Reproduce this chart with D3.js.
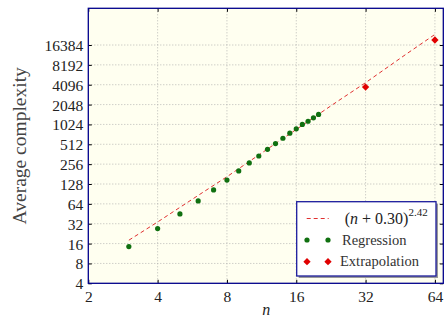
<!DOCTYPE html>
<html>
<head>
<meta charset="utf-8">
<script src="https://cdn.jsdelivr.net/npm/d3@7"></script>
<style>
  body { margin: 0; background: #fff; }
</style>
</head>
<body>
<div class="chart-box"></div>
<script>
let width = 447, height = 321;
let margin = {top: 8.3, right: 3.7, bottom: 37.7, left: 88.3};
let serif = "'Liberation Serif', 'DejaVu Serif', serif";

// regression points (n, average complexity)
let regN = [3, 4, 5, 6, 7, 8, 9, 10, 11, 12, 13, 14, 15, 16, 17, 18, 19, 20];
let regY = [14.4, 27, 45, 71, 104, 147, 202, 267, 340, 430, 525, 632, 755, 880, 1024, 1145, 1290, 1450];
// extrapolated points
let extN = [32, 64];
let extY = [3770, 19500];
// fitted curve
let fitN = [3, 4, 6, 8, 12, 16, 24, 32, 48, 64];
let fitY = [18, 34, 86, 165, 434, 860, 2255, 4400, 11900, 23700];

let xTicks = [2, 4, 8, 16, 32, 64];
let yTicks = [4, 8, 16, 32, 64, 128, 256, 512, 1024, 2048, 4096, 8192, 16384];

let svg = d3.select('.chart-box')
  .append('svg')
  .attr('width', width)
  .attr('height', height);

let w = width - margin.left - margin.right;
let h = height - margin.top - margin.bottom;

let x = d3.scaleLog().base(2).domain([2, 69.6]).range([0, w]);
let y = d3.scaleLog().base(2).domain([4, 59000]).range([h, 0]);

let g = svg.append('g').attr('transform', `translate(${margin.left},${margin.top})`);

g.append('rect')
  .attr('width', w).attr('height', h)
  .attr('fill', '#fffff0');

// grid
g.append('g').selectAll('line').data(xTicks.slice(1)).enter().append('line')
  .attr('x1', d => x(d)).attr('x2', d => x(d))
  .attr('y1', 0).attr('y2', h)
  .attr('stroke', '#aaa').attr('stroke-width', 0.8).attr('stroke-dasharray', '1,2');
g.append('g').selectAll('line').data(yTicks.slice(1)).enter().append('line')
  .attr('x1', 0).attr('x2', w)
  .attr('y1', d => y(d)).attr('y2', d => y(d))
  .attr('stroke', '#aaa').attr('stroke-width', 0.8).attr('stroke-dasharray', '1,2');

// axes
let fmt = d => d3.format('d')(d);
let xAxis = g.append('g')
  .attr('transform', `translate(0,${h})`)
  .call(d3.axisBottom(x).tickValues(xTicks).tickFormat(fmt).tickSizeInner(-3.5).tickSizeOuter(0).tickPadding(7));
let xTop = g.append('g')
  .call(d3.axisTop(x).tickValues(xTicks).tickFormat('').tickSizeInner(-3.5).tickSizeOuter(0));
let yAxis = g.append('g')
  .call(d3.axisLeft(y).tickValues(yTicks).tickFormat(fmt).tickSizeInner(-3.5).tickSizeOuter(0).tickPadding(5));
let yRight = g.append('g')
  .attr('transform', `translate(${w},0)`)
  .call(d3.axisRight(y).tickValues(yTicks).tickFormat('').tickSizeInner(-3.5).tickSizeOuter(0));

[xAxis, xTop, yAxis, yRight].forEach(a => {
  a.attr('font-family', null);
  a.select('.domain').remove();
  a.selectAll('.tick line').attr('stroke', '#000').attr('stroke-width', 1);
  a.selectAll('text').style('font-size', '15.5px').style('font-family', serif).attr('fill', '#222');
});
xAxis.selectAll('text').attr('dy', '0.75em');
yAxis.selectAll('text').attr('dy', '0.35em');

g.append('rect')
  .attr('width', w).attr('height', h)
  .attr('fill', 'none').attr('stroke', '#00008b').attr('stroke-width', 1.3);

// fitted curve
let line = d3.line().x(d => x(d[0])).y(d => y(d[1]));
g.append('path')
  .datum(d3.zip(fitN, fitY))
  .attr('d', line)
  .attr('fill', 'none')
  .attr('stroke', '#e03030')
  .attr('stroke-width', 1)
  .attr('stroke-dasharray', '4,3');

// points
g.append('g').selectAll('circle').data(d3.zip(regN, regY)).enter().append('circle')
  .attr('cx', d => x(d[0])).attr('cy', d => y(d[1]))
  .attr('r', 2.6).attr('fill', '#107010');

let diamond = d3.symbol().type(d3.symbolDiamond2).size(34);
g.append('g').selectAll('path').data(d3.zip(extN, extY)).enter().append('path')
  .attr('transform', d => `translate(${x(d[0])},${y(d[1])})`)
  .attr('d', diamond).attr('fill', '#e00000');

// legend
let lg = svg.append('g').attr('transform', 'translate(296.7,201.7)');
let lw = 139.3, lh = 74.3;
lg.append('rect').attr('x', 2).attr('y', 2).attr('width', lw).attr('height', lh).attr('fill', '#999');
lg.append('rect').attr('width', lw).attr('height', lh).attr('fill', '#fff')
  .attr('stroke', '#1c1c9c').attr('stroke-width', 1.3);

lg.append('line').attr('x1', 10).attr('x2', 32).attr('y1', 16.8).attr('y2', 16.8)
  .attr('stroke', '#e03030').attr('stroke-width', 1).attr('stroke-dasharray', '4,3');
let ft = lg.append('text').attr('x', 48).attr('y', 22)
  .style('font-family', serif).style('font-size', '16px').attr('fill', '#222');
ft.append('tspan').text('(');
ft.append('tspan').style('font-style', 'italic').text('n');
ft.append('tspan').text(' + 0.30)');
ft.append('tspan').style('font-size', '11px').attr('dy', -8).text('2.42');

lg.append('circle').attr('cx', 10.3).attr('cy', 38.3).attr('r', 2.6).attr('fill', '#107010');
lg.append('circle').attr('cx', 31.3).attr('cy', 38.3).attr('r', 2.6).attr('fill', '#107010');
lg.append('text').attr('x', 45.3).attr('y', 43)
  .style('font-family', serif).style('font-size', '14.5px').attr('fill', '#333').text('Regression');

lg.append('path').attr('transform', 'translate(10.3,60)').attr('d', diamond).attr('fill', '#e00000');
lg.append('path').attr('transform', 'translate(31.3,60)').attr('d', diamond).attr('fill', '#e00000');
lg.append('text').attr('x', 43.3).attr('y', 64.7)
  .style('font-family', serif).style('font-size', '14.5px').attr('fill', '#333').text('Extrapolation');

// axis titles
svg.append('text')
  .attr('transform', `translate(26,${margin.top + h / 2}) rotate(-90)`)
  .attr('text-anchor', 'middle')
  .style('font-family', serif).style('font-size', '19.5px')
  .attr('fill', '#444')
  .text('Average complexity');
svg.append('text')
  .attr('x', margin.left + w / 2 + 0.5).attr('y', 315)
  .attr('text-anchor', 'middle')
  .style('font-family', serif).style('font-size', '16px').style('font-style', 'italic')
  .attr('fill', '#222')
  .text('n');
</script>
</body>
</html>
